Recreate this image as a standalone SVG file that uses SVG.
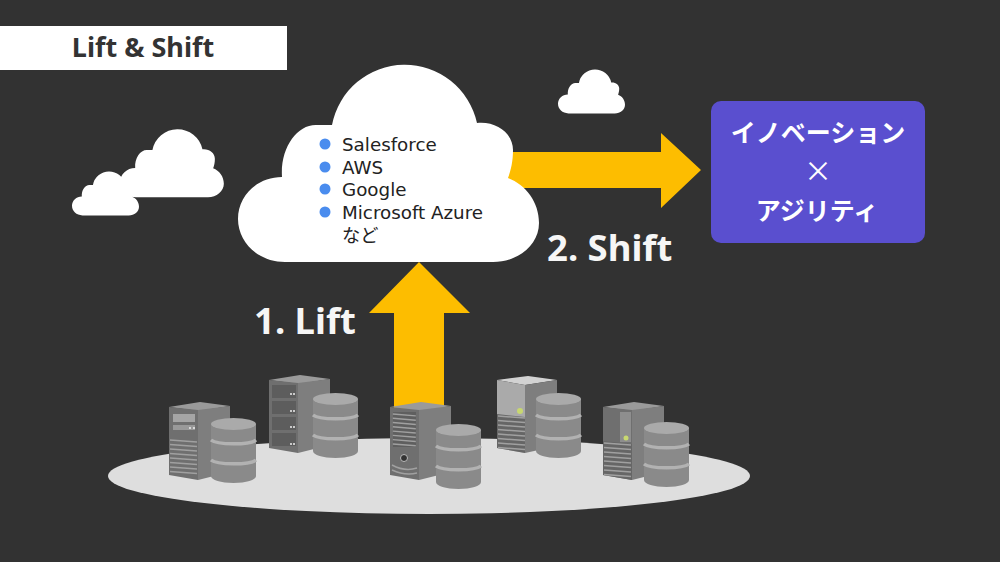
<svg xmlns="http://www.w3.org/2000/svg" width="1000" height="562" viewBox="0 0 1000 562">
<style>
.sans{font-family:"Noto Sans","Noto Sans CJK JP","DejaVu Sans",sans-serif}
.item{font-family:"DejaVu Sans","Noto Sans CJK JP",sans-serif;font-size:18.300px;fill:#222}
.bullet{fill:#4a8cee}
.label{font-size:36.500px;font-weight:700;fill:#f6f6f6}
.jp{font-family:"Noto Sans CJK JP",sans-serif;font-weight:700;fill:#fff;font-size:25px;text-anchor:middle}
.arrow{fill:#fdbd00}
.top{fill:#9a9a9a}.front{fill:#6f6f6f}.side{fill:#7e7e7e}
.cyl{fill:#8a8a8a}.cyltop{fill:#aaa}.band{fill:none;stroke:#b2b2b2;stroke-width:3.500}
.slot{stroke:#a0a0a0;stroke-width:1.500;fill:none}
</style>
<defs>
<path id="cloud" d="M47 195C20 195 0 175 0 152C0 128 20 110 44 110C42 80 60 56 80 58L94 58A74 74 0 0 1 239 56C258 54 275 66 275 83C275 94 273 103 270 111C288 118 301 135 301 156C301 178 280 195 255 195Z" fill="#fff"/>
<g id="box">
<path class="top" d="M0 0L31 -5L61 -1L30 4Z"/>
<path class="side" d="M29 3L61 -1V65L29 73Z"/>
<path class="front" d="M0 0L29 3V73L0 68Z"/>
</g>
<g id="db">
<path class="cyl" d="M0 6V58C0 62 10 65 22.500 65C35 65 45 62 45 58V6Z"/>
<ellipse class="cyltop" cx="22.500" cy="6" rx="22.500" ry="6"/>
<path class="band" d="M0 22C6 27 39 27 45 22M0 42C6 47 39 47 45 42"/>
</g>
<path id="vents" class="slot" d="M1 0L28 2M1 4.500L28 6.500M1 9L28 11M1 13.500L28 15.500M1 18L28 20M1 22.500L28 24.500M1 27L28 29M1 31.500L28 33.500"/>
</defs>
<rect width="1000" height="562" fill="#323232"/>
<g id="connectors">
<path id="shift-arrow" class="arrow" d="M500 152H661V133L701 170L661 208V188H500Z"/>
<path id="lift-arrow" class="arrow" d="M419 262L470 313H444V410H394V313H369Z"/>
</g>
<g id="title"><rect y="26" width="287" height="44" fill="#fff"/><text class="sans" x="143" y="57" font-size="27" font-weight="700" fill="#333" text-anchor="middle">Lift &amp; Shift</text></g>
<g id="cloud-small-top"><use href="#cloud" transform="translate(558 70) scale(.2226)"/></g>
<g id="cloud-back"><use href="#cloud" transform="translate(120 130) scale(.345)"/></g>
<g id="cloud-front"><use href="#cloud" transform="translate(72 172) scale(.2226)"/></g>
<g id="main-cloud">
<use href="#cloud" transform="translate(238 67)"/>
<circle class="bullet" cx="325" cy="144" r="5.500"/><circle class="bullet" cx="325" cy="167" r="5.500"/><circle class="bullet" cx="325" cy="189" r="5.500"/><circle class="bullet" cx="325" cy="212" r="5.500"/>
<text class="item" x="342" y="151">Salesforce</text>
<text class="item" x="342" y="174">AWS</text>
<text class="item" x="342" y="196">Google</text>
<text class="item" x="342" y="219">Microsoft Azure</text>
<text class="item" x="342" y="242">など</text>
</g>
<g id="result"><rect x="711" y="101" width="214" height="142" rx="10" fill="#5a4fcf"/>
<text class="jp" x="818" y="142">イノベーション</text>
<text x="818" y="182" font-family="Noto Sans CJK JP,sans-serif" font-size="28" fill="#fff" text-anchor="middle">×</text>
<text class="jp" x="817" y="220">アジリティ</text></g>
<text class="sans label" x="254" y="334">1. Lift</text>
<text class="sans label" x="547" y="261">2. Shift</text>
<g id="platform"><ellipse cx="429" cy="476" rx="321" ry="38" fill="#dedede"/></g>
<g id="server-1"><use href="#box" transform="translate(169 407)"/><rect x="173" y="414" width="22" height="8" fill="#a5a5a5"/><rect x="173" y="425" width="22" height="5" fill="#999"/><circle cx="190" cy="428" r="1" fill="#eee"/><circle cx="194" cy="428" r="1" fill="#eee"/><use href="#vents" transform="translate(169 440)"/><use href="#db" transform="translate(211 418)"/></g>
<g id="server-2"><use href="#box" transform="translate(269 380)"/><g fill="#5d5d5d"><rect x="272" y="385" width="24" height="13"/><rect x="272" y="401" width="24" height="13"/><rect x="272" y="417" width="24" height="13"/><rect x="272" y="433" width="24" height="13"/></g><g fill="#eee"><circle cx="291" cy="394" r="1"/><circle cx="294" cy="394" r="1"/><circle cx="291" cy="411" r="1"/><circle cx="294" cy="411" r="1"/><circle cx="291" cy="427" r="1"/><circle cx="294" cy="427" r="1"/><circle cx="291" cy="444" r="1"/><circle cx="294" cy="444" r="1"/></g><use href="#db" transform="translate(313 393)"/></g>
<g id="server-3"><use href="#box" transform="translate(390 407)"/><rect x="393" y="412" width="23" height="35" fill="#5f5f5f"/><use href="#vents" transform="translate(392 414) scale(.85 .95)"/><circle cx="404" cy="458" r="3.500" fill="#333" stroke="#bbb"/><path class="slot" d="M392 465Q405 472 417 468M392 470Q405 476 417 473"/><use href="#db" transform="translate(436 424)"/></g>
<g id="server-4"><path d="M497 380L528 376L557 380L525 385Z" fill="#d2d2d2"/><path d="M525 385L557 380V446L525 453Z" fill="#7e7e7e"/><path d="M497 380L525 385V453L497 448Z" fill="#aaa"/><path d="M497 414L525 417V453L497 448Z" fill="#666"/><circle cx="520" cy="411" r="3" fill="#c8d870"/><use href="#vents" transform="translate(497 416)"/><use href="#db" transform="translate(536 393)"/></g>
<g id="server-5"><use href="#box" transform="translate(603 407)"/><rect x="620" y="412" width="11" height="30" fill="#8e8e8e"/><circle cx="626" cy="438" r="2.500" fill="#c8d870"/><path d="M603 441L632 444V480L603 475Z" fill="#666"/><use href="#vents" transform="translate(603 443)"/><use href="#db" transform="translate(644 422)"/></g>
</svg>
